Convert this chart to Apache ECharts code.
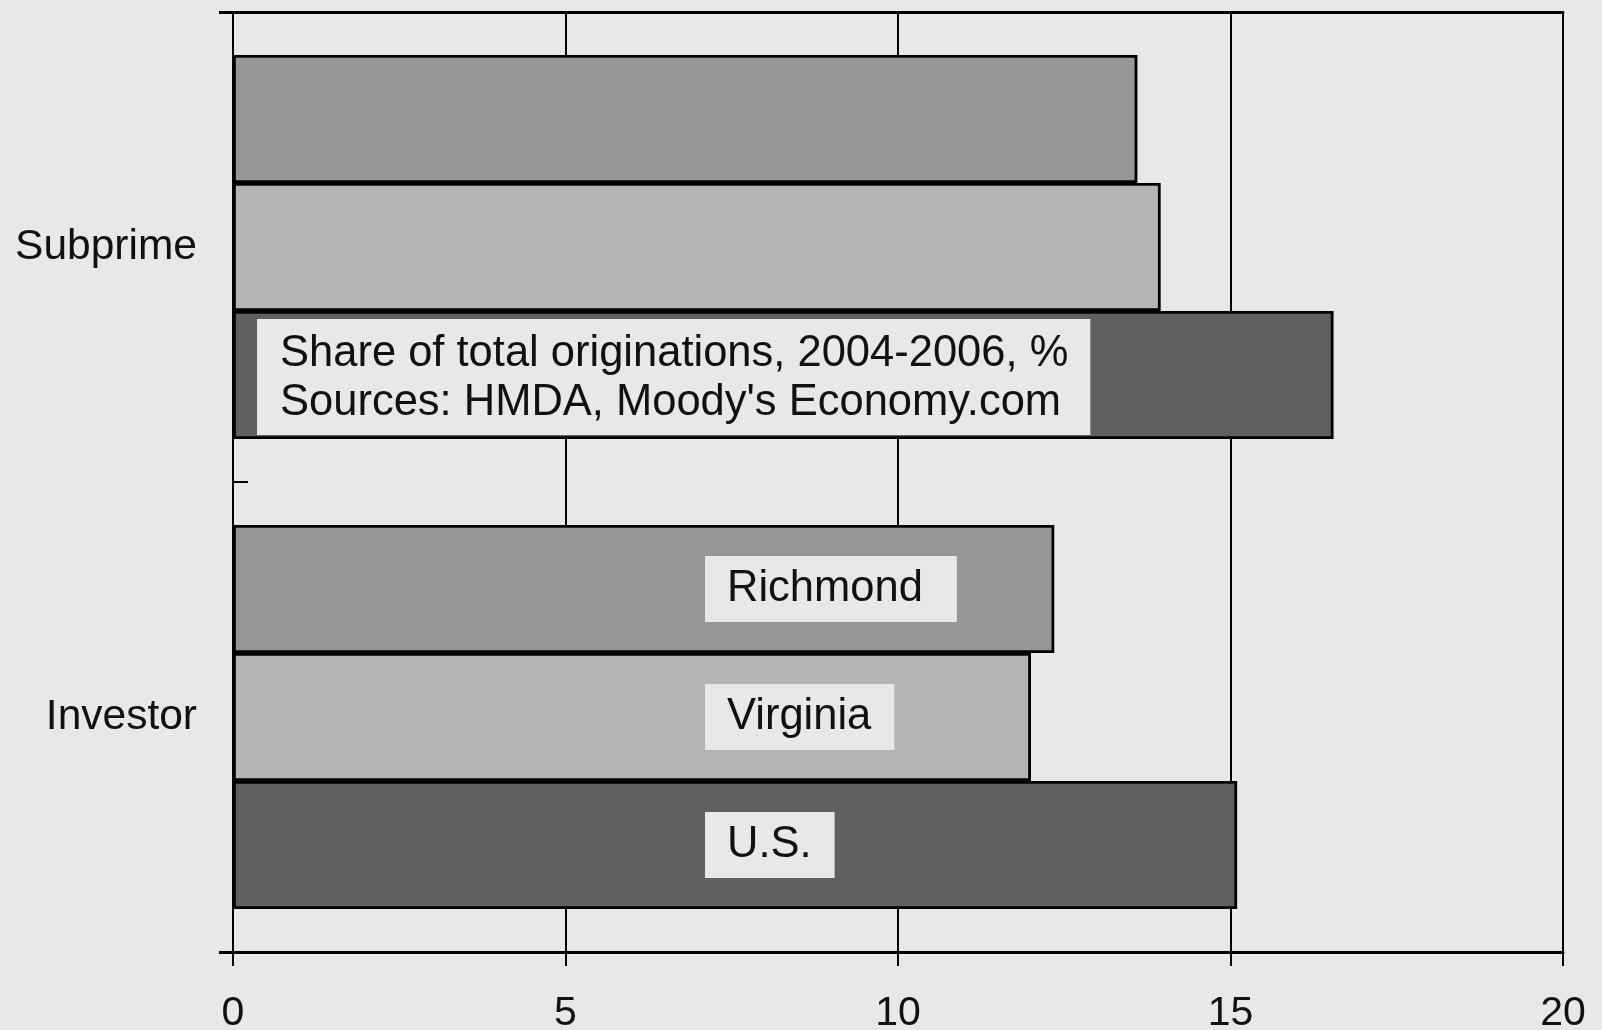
<!DOCTYPE html>
<html>
<head>
<meta charset="utf-8">
<script src="https://cdn.jsdelivr.net/npm/echarts@6/dist/echarts.min.js"></script>
<style>
html,body{margin:0;padding:0;background:#e8e8e8;}
#chart{width:1602px;height:1030px;}
</style>
</head>
<body>
<div id="chart"></div>
<script>
// Data
var categories = ['Subprime', 'Investor'];
var seriesNames = ['Richmond', 'Virginia', 'U.S.'];
var richmond = [13.6, 12.35];
var virginia = [13.95, 12.0];
var us = [16.55, 15.1];
var xTicks = [0, 5, 10, 15, 20];
var noteText = 'Share of total originations, 2004-2006, %\nSources: HMDA, Moody\'s Economy.com';

var values = [richmond, virginia, us];
var colors = ['#969696', '#b4b4b4', '#606060'];
var rightPad = [34, 23, 23];
var FONT = 'Liberation Sans, Arial, sans-serif';

var chart = echarts.init(document.getElementById('chart'), null, {renderer: 'canvas'});

var series = seriesNames.map(function (name, i) {
  return {
    type: 'bar',
    name: name,
    barGap: '0%',
    barCategoryGap: '18.3%',
    itemStyle: {color: colors[i], borderColor: '#000', borderWidth: 2.8},
    silent: true,
    data: values[i].map(function (v, j) {
      var d = {value: v};
      if (categories[j] === 'Investor') {
        d.label = {
          show: true,
          position: [472, '50%'],
          align: 'left',
          verticalAlign: 'middle',
          formatter: name,
          fontFamily: FONT,
          fontSize: 43.5,
          lineHeight: 44,
          color: '#111',
          backgroundColor: '#e8e8e8',
          padding: [11, rightPad[i], 11, 22]
        };
      }
      return d;
    })
  };
});

chart.setOption({
  backgroundColor: '#e8e8e8',
  animation: false,
  title: {
    text: noteText,
    left: 257,
    top: 319,
    backgroundColor: '#e8e8e8',
    padding: [10, 22, 8, 23],
    textStyle: {fontFamily: FONT, fontSize: 43.5, lineHeight: 49, fontWeight: 'normal', color: '#111'}
  },
  grid: {left: 233, right: 39, top: 12, bottom: 78, containLabel: false, outerBoundsMode: 'none'},
  xAxis: [{
    type: 'value',
    min: xTicks[0],
    max: xTicks[xTicks.length - 1],
    interval: xTicks[1] - xTicks[0],
    position: 'bottom',
    axisLine: {show: true, lineStyle: {color: '#000', width: 3}},
    axisTick: {show: true, length: 14, lineStyle: {color: '#000', width: 2}},
    axisLabel: {fontFamily: FONT, fontSize: 41, color: '#111', margin: 41},
    splitLine: {show: true, lineStyle: {color: '#000', width: 2}}
  }, {
    type: 'value',
    min: xTicks[0],
    max: xTicks[xTicks.length - 1],
    position: 'top',
    axisLine: {show: true, lineStyle: {color: '#000', width: 3}},
    axisTick: {show: false},
    axisLabel: {show: false},
    splitLine: {show: false}
  }],
  yAxis: [{
    type: 'category',
    data: categories,
    inverse: true,
    position: 'left',
    axisLine: {show: true, lineStyle: {color: '#000', width: 2}},
    axisTick: {show: true, inside: true, length: 15, lineStyle: {color: '#000', width: 2}},
    axisLabel: {fontFamily: FONT, fontSize: 42.5, color: '#111', margin: 36},
    splitLine: {show: false}
  }, {
    type: 'value',
    min: 0,
    max: 1,
    interval: 1,
    position: 'left',
    axisLine: {show: false},
    axisTick: {show: true, length: 14, lineStyle: {color: '#000', width: 3}},
    axisLabel: {show: false},
    splitLine: {show: false}
  }],
  series: series
});
</script>
</body>
</html>
